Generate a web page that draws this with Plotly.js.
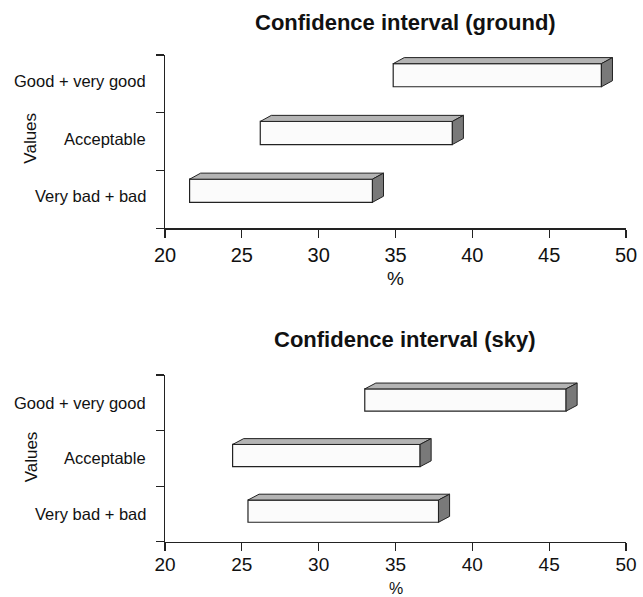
<!DOCTYPE html>
<html><head><meta charset="utf-8">
<script src="https://cdn.plot.ly/plotly-3.0.1.min.js"></script>
<style>html,body{margin:0;padding:0;background:#fff}</style>
</head><body><div id="chart" style="width:643px;height:597px"></div>
<script>
const categories = ['Very bad + bad', 'Acceptable', 'Good + very good'];
const groundLow  = [21.6, 26.2, 34.85];
const groundHigh = [33.5, 38.7, 48.4];
const skyLow     = [25.4, 24.4, 33.0];
const skyHigh    = [37.8, 36.6, 46.1];
const xTicks = [20, 25, 30, 35, 40, 45, 50];
const chartTitles = ['Confidence interval (ground)', 'Confidence interval (sky)'];
const xTitle = '%';
const yTitle = 'Values';

const W = 643, H = 597;
const BAR_W = 0.4, DX = 0.72, DY = 0.105;
const LBL = 'Liberation Sans, Arial, Helvetica, sans-serif';
const SANS = 'Liberation Sans, Arial, Helvetica, sans-serif';
const INK = '#222';

const panels = [
  {low: groundLow, high: groundHigh, xa: 'x', ya: 'y', off: -0.05, title: chartTitles[0], dom: [55, 228.3], titleY: 22.5, lblShift: 3, valShift: 3, pctY: 278, tickSize: 20, standoff: 0, pctSize: 19},
  {low: skyLow, high: skyHigh, xa: 'x2', ya: 'y2', off: -0.15, title: chartTitles[1], dom: [375, 541.7], titleY: 339, lblShift: 0, valShift: 1, pctY: 588, tickSize: 19, standoff: -3, pctSize: 16}
];

const traces = [];
const annotations = [];
const layout = {
  width: W, height: H, margin: {l: 0, r: 0, t: 0, b: 0},
  paper_bgcolor: '#fff', plot_bgcolor: 'rgba(0,0,0,0)',
  showlegend: false, annotations: annotations
};

panels.forEach((p, k) => {
  const idx = categories.map((c, i) => i);
  traces.push({
    type: 'bar', orientation: 'h', xaxis: p.xa, yaxis: p.ya,
    y: idx, base: p.low, x: p.high.map((h, i) => h - p.low[i]),
    width: BAR_W, offset: p.off,
    marker: {color: '#fbfbfb', line: {color: INK, width: 1.2}},
    hoverinfo: 'skip'
  });
  const tx = [], ty = [], sx = [], sy = [];
  idx.forEach(i => {
    const lo = p.low[i], hi = p.high[i];
    const yb = i + p.off, yt = yb + BAR_W;
    tx.push(lo, lo + DX, hi + DX, hi, lo, null);
    ty.push(yt, yt + DY, yt + DY, yt, yt, null);
    sx.push(hi, hi, hi + DX, hi + DX, hi, null);
    sy.push(yb, yt, yt + DY, yb + DY, yb, null);
  });
  traces.push({type: 'scatter', mode: 'lines', xaxis: p.xa, yaxis: p.ya, x: tx, y: ty,
    fill: 'toself', fillcolor: '#b4b4b4', line: {color: INK, width: 1}, hoverinfo: 'skip'});
  traces.push({type: 'scatter', mode: 'lines', xaxis: p.xa, yaxis: p.ya, x: sx, y: sy,
    fill: 'toself', fillcolor: '#797979', line: {color: INK, width: 1}, hoverinfo: 'skip'});

  const xName = k === 0 ? 'xaxis' : 'xaxis2';
  const yName = k === 0 ? 'yaxis' : 'yaxis2';
  layout[xName] = {
    domain: [165 / W, 626 / W], anchor: p.ya, range: [xTicks[0], xTicks[xTicks.length - 1]],
    tickmode: 'array', tickvals: xTicks, ticks: 'outside', ticklen: 8, tickwidth: 1.2, tickcolor: INK,
    showline: true, linecolor: INK, linewidth: 1.3, showgrid: false, zeroline: false,
    tickfont: {family: SANS, size: p.tickSize, color: '#111'}, ticklabelstandoff: p.standoff,
    automargin: false, fixedrange: true
  };
  layout[yName] = {
    domain: [1 - p.dom[1] / H, 1 - p.dom[0] / H], anchor: p.xa, range: [-0.5, categories.length - 0.5],
    tickmode: 'array', tickvals: [-0.5, 0.5, 1.5, 2.5], ticks: 'outside', ticklen: 8, tickwidth: 1.2, tickcolor: INK,
    showticklabels: false, showline: true, linecolor: INK, linewidth: 1.3, showgrid: false, zeroline: false,
    automargin: false, fixedrange: true
  };

  annotations.push({xref: 'paper', yref: 'paper', x: 405 / W, y: 1 - p.titleY / H,
    xanchor: 'center', yanchor: 'middle', showarrow: false, text: '<b>' + p.title + '</b>',
    font: {family: SANS, size: 22, color: '#111'}});
  annotations.push({xref: 'paper', yref: 'paper', x: 396 / W, y: 1 - p.pctY / H,
    xanchor: 'center', yanchor: 'middle', showarrow: false, text: xTitle, borderpad: 0,
    font: {family: SANS, size: p.pctSize, color: '#111'}});
  categories.forEach((c, i) => {
    annotations.push({xref: p.xa, yref: p.ya, x: xTicks[0], y: i, xanchor: 'right', yanchor: 'middle',
      xshift: -17, yshift: p.lblShift, showarrow: false, text: c,
      font: {family: LBL, size: 16.5, color: '#111'}});
  });
  annotations.push({xref: p.xa, yref: p.ya, x: xTicks[0], y: 1, xanchor: 'center', yanchor: 'middle',
    xshift: -134, yshift: p.valShift, textangle: -90, showarrow: false, text: yTitle,
    font: {family: LBL, size: 17, color: '#111'}});
});

Plotly.newPlot('chart', traces, layout, {staticPlot: true, displayModeBar: false});
</script>
</body></html>
